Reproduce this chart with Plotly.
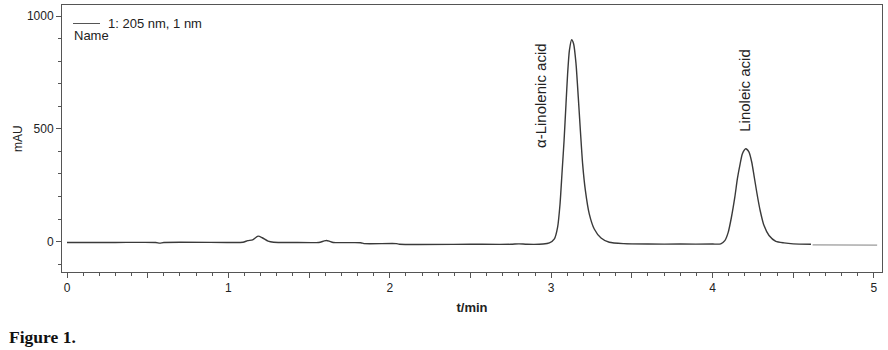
import plotly.graph_objects as go

# Chromatogram trace (t in min, signal in mAU)
time_min = [0.00, 0.30, 0.55, 0.575, 0.60, 1.00, 1.09, 1.12, 1.15, 1.184, 1.21, 1.246, 1.28, 1.40,
            1.56, 1.59, 1.607, 1.625, 1.65, 1.82, 1.84, 2.04, 2.06, 2.50, 2.75, 2.80, 2.85, 2.95,
            2.989, 3.020, 3.040, 3.055, 3.067, 3.080, 3.092, 3.102, 3.113, 3.127,
            3.139, 3.154, 3.168, 3.181, 3.195, 3.212, 3.236, 3.267, 3.309, 3.360,
            3.45, 3.60, 3.80, 4.00, 4.051,
            4.076, 4.097, 4.117, 4.138, 4.154, 4.171, 4.185, 4.206,
            4.226, 4.243, 4.257, 4.274, 4.295, 4.319, 4.350, 4.392, 4.443, 4.50, 4.61]
signal_mau = [-4, -4, -4, -7, -4, -4, -3, 4, 8, 24, 17, 2, -3, -4,
              -4, 2, 5, 2, -4, -5, -9, -9, -12, -12, -12, -10, -12, -11,
              -6, 12, 64, 167, 301, 449, 612, 745, 849, 896,
              878, 790, 641, 493, 345, 227, 123, 56, 16, -3,
              -9, -11, -11, -11, -10,
              4, 41, 108, 197, 279, 345, 390, 412,
              397, 352, 293, 219, 138, 71, 27, 1, -6, -10, -12]

# faint end segment of the trace
tail_time = [4.62, 5.02]
tail_signal = [-15, -16]

x_tick_vals = [0, 0.5, 1, 1.5, 2, 2.5, 3, 3.5, 4, 4.5, 5]
x_tick_text = ["0", "", "1", "", "2", "", "3", "", "4", "", "5"]
y_tick_vals = [0, 500, 1000]

peak_names = ["α-Linolenic acid", "Linoleic acid"]
peak_label_x = [2.93, 4.20]
peak_label_y = [650, 673]

legend_text = "1: 205 nm, 1 nm"

fig = go.Figure()
fig.add_trace(go.Scatter(x=time_min, y=signal_mau, mode="lines",
                         line=dict(color="#3a3a3a", width=1.4, shape="spline", smoothing=0.6),
                         showlegend=False, hoverinfo="skip"))
fig.add_trace(go.Scatter(x=tail_time, y=tail_signal, mode="lines",
                         line=dict(color="#9a9a9a", width=1.2),
                         showlegend=False, hoverinfo="skip"))

for name, lx, ly in zip(peak_names, peak_label_x, peak_label_y):
    fig.add_annotation(x=lx, y=ly, xref="x", yref="y", text=name, textangle=-90,
                       showarrow=False, xanchor="center", yanchor="middle",
                       font=dict(family="Liberation Sans, Arial", size=15, color="#222"))

# legend-like block
fig.add_shape(type="line", xref="paper", yref="paper",
              x0=(73 - 62) / 820, x1=(100 - 62) / 820,
              y0=(272 - 23.5) / 267, y1=(272 - 23.5) / 267,
              line=dict(color="#555", width=1))
fig.add_annotation(xref="paper", yref="paper", x=(106 - 62) / 820, y=(272 - 23.5) / 267,
                   text=legend_text, showarrow=False, xanchor="left", yanchor="middle",
                   font=dict(family="Liberation Sans, Arial", size=13, color="#222"))
fig.add_annotation(xref="paper", yref="paper", x=(72 - 62) / 820, y=(272 - 35.5) / 267,
                   text="Name", showarrow=False, xanchor="left", yanchor="middle",
                   font=dict(family="Liberation Sans, Arial", size=13, color="#222"))

# y-axis title
fig.add_annotation(xref="paper", yref="paper", x=(17.5 - 62) / 820, y=0.5,
                   text="mAU", textangle=-90, showarrow=False,
                   xanchor="center", yanchor="middle",
                   font=dict(family="Liberation Sans, Arial", size=12, color="#222"))

fig.add_annotation(xref="paper", yref="paper", x=(7 - 62) / 820, y=(272 - 337) / 267,
                   text="<b>Figure 1.</b>", showarrow=False, xanchor="left", yanchor="middle",
                   font=dict(family="Liberation Serif, Times New Roman", size=17.5, color="#111"))

axis_common = dict(showgrid=False, zeroline=False, showline=True, linecolor="#555",
                   linewidth=1, mirror=True, ticks="outside", tickcolor="#555",
                   tickwidth=1, ticklen=5,
                   tickfont=dict(family="Liberation Sans, Arial", size=12, color="#222"))

fig.update_layout(
    width=888, height=350,
    margin=dict(l=62, r=6, t=5, b=78),
    paper_bgcolor="white", plot_bgcolor="white",
    xaxis=dict(range=[-0.031, 5.050], tickvals=x_tick_vals, ticktext=x_tick_text,
               minor=dict(dtick=0.1, ticklen=3, tickcolor="#555", ticks="outside"),
               title=dict(text="<b>t/min</b>", standoff=8,
                          font=dict(family="Liberation Sans, Arial", size=13, color="#222")),
               **axis_common),
    yaxis=dict(range=[-135, 1050], tickvals=y_tick_vals,
               minor=dict(dtick=100, ticklen=3, tickcolor="#555", ticks="outside"),
               **axis_common),
)

fig.write_html("out.html",
               config={"displayModeBar": False},
               post_script="document.body.style.margin='0';document.body.style.overflow='hidden';")
